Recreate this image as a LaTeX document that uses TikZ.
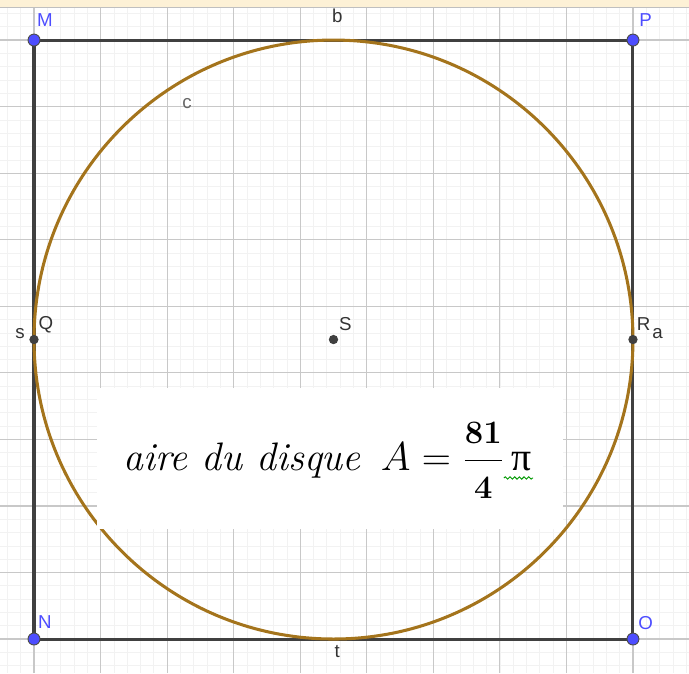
\documentclass[tikz,border=0pt]{standalone}
\usepackage{fontspec}
\newfontfamily\labelfont{Liberation Sans}
\newfontfamily\greekfont{Liberation Serif}
\usetikzlibrary{decorations.pathmorphing}
\definecolor{gridmajor}{HTML}{C8C8C8}
\definecolor{gridminor}{HTML}{F2F2F2}
\definecolor{ptblue}{HTML}{4D4DFF}
\definecolor{circbrown}{HTML}{A4741C}
\definecolor{topband}{HTML}{FDF1D6}
\newcommand{\fracdigits}[1]{\mbox{\fontsize{14}{16}\selectfont\bfseries #1}}
\tikzset{
  ptlabel/.style={font=\labelfont\fontsize{8}{9}\selectfont, text=black!80, inner sep=0pt},
  bluelabel/.style={ptlabel, text=ptblue},
  bluept/.style={circle, fill=ptblue, draw=black!70, line width=0.4pt, inner sep=0pt, minimum size=0.18cm},
  darkpt/.style={circle, fill=black!75, inner sep=0pt, minimum size=0.14cm},
}
\begin{document}
\begin{tikzpicture}
  \useasboundingbox (-0.511,-0.511) rectangle (9.842,9.602);
  % grid
  \draw[gridminor, line width=0.3pt, step=0.2] (-0.511,-0.511) grid (9.842,9.602);
  \draw[gridmajor, line width=0.5pt, step=1] (-0.511,-0.511) grid (9.842,9.602);
  \fill[topband] (-0.511,9.497) rectangle (9.842,9.602);
  \draw[gray!50, line width=0.3pt] (-0.511,9.497) -- (9.842,9.497);
  % square and circle
  \coordinate (M) at (0,9);
  \coordinate (P) at (9,9);
  \coordinate (O) at (9,0);
  \coordinate (N) at (0,0);
  \coordinate (Q) at (0,4.5);
  \coordinate (R) at (9,4.5);
  \coordinate (S) at (4.5,4.5);
  \draw[black!75, line width=1.3pt] (M) -- (P) -- (O) -- (N) -- cycle;
  \draw[circbrown, line width=1.3pt] (S) circle (4.5);
  % formula box
  \fill[white] (0.947,1.654) rectangle (7.955,3.774);
  \node[anchor=base, inner sep=0pt] (formula) at (4.41,2.526)
    {\fontsize{17}{20}\selectfont\textit{aire du disque}\enspace $\displaystyle A=\frac{\fracdigits{81}}{\fracdigits{4}}\,\mbox{\greekfont π}$};
  \draw[green!60!black, line width=0.4pt, decorate,
    decoration={snake, amplitude=0.5pt, segment length=2pt}] (7.06,2.42) -- (7.50,2.42);
  % points
  \node[bluept] (Mpt) at (M) {};
  \node[bluept] (Ppt) at (P) {};
  \node[bluept] (Opt) at (O) {};
  \node[bluept] (Npt) at (N) {};
  \node[darkpt] (Qpt) at (Q) {};
  \node[darkpt] (Rpt) at (R) {};
  \node[darkpt] (Spt) at (S) {};
  % labels
  \node[bluelabel] (Mlabel) at (0.165,9.293) {M};
  \node[bluelabel] (Plabel) at (9.19,9.293) {P};
  \node[bluelabel] (Nlabel) at (0.165,0.256) {N};
  \node[bluelabel] (Olabel) at (9.19,0.24) {O};
  \node[ptlabel] (Qlabel) at (0.18,4.72) {Q};
  \node[ptlabel] (slabel) at (-0.21,4.59) {s};
  \node[ptlabel] (Rlabel) at (9.16,4.74) {R};
  \node[ptlabel] (alabel) at (9.37,4.59) {a};
  \node[ptlabel] (Slabel) at (4.68,4.74) {S};
  \node[ptlabel] (blabel) at (4.556,9.368) {b};
  \node[ptlabel] (tlabel) at (4.556,-0.195) {t};
  \node[ptlabel, text=black!60] (clabel) at (2.30,8.045) {c};
\end{tikzpicture}
\end{document}
